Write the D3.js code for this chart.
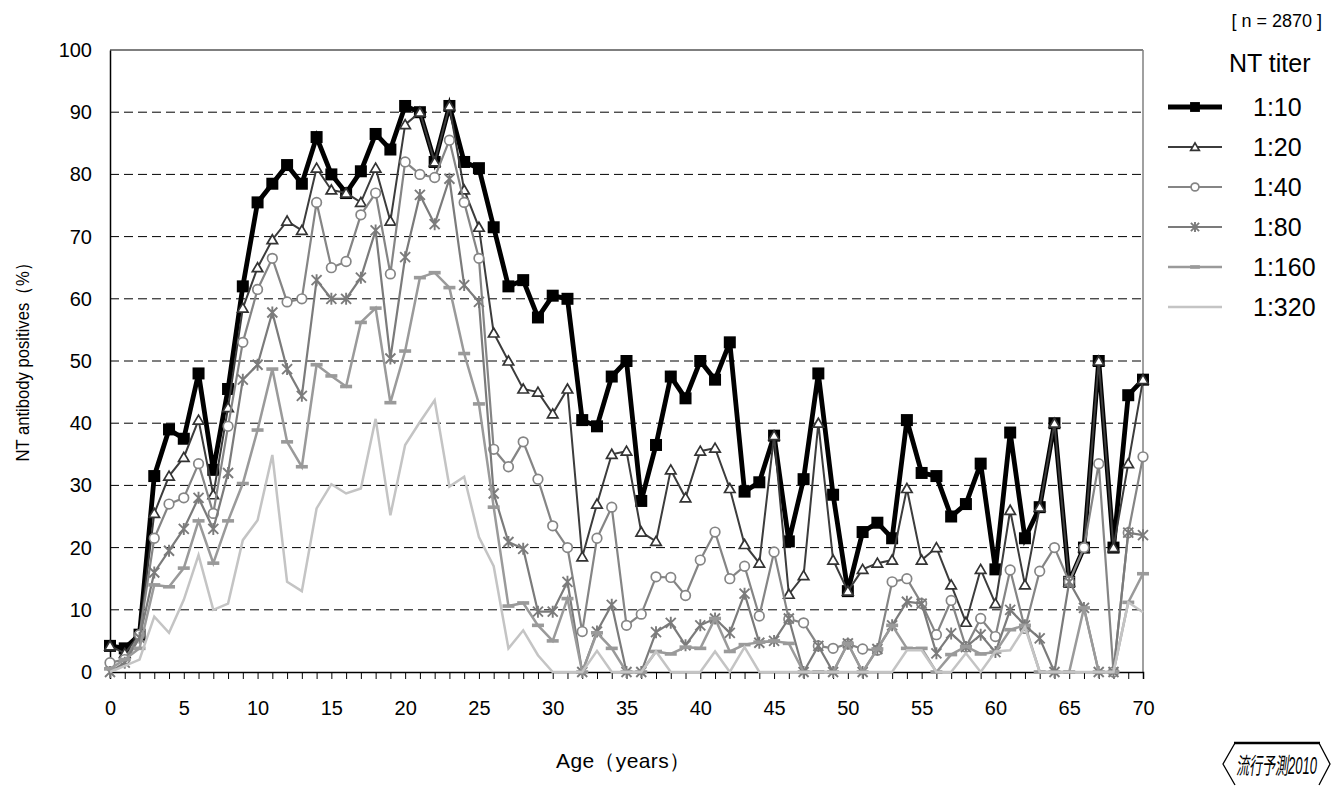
<!DOCTYPE html>
<html>
<head>
<meta charset="utf-8">
<script src="https://cdn.jsdelivr.net/npm/d3@7"></script>
<style>
body { margin: 0; background: #fff; }
svg { display: block; font-family: "Liberation Sans", Arial, sans-serif; }
</style>
</head>
<body>
<svg id="chart" width="1336" height="787"></svg>
<script>
// data
var ages = d3.range(0, 71);
var titers = ["1:10", "1:20", "1:40", "1:80", "1:160", "1:320"];

var t10 = [4.2,3.8,6,31.5,39,37.5,48,32.5,45.5,62, 75.5,78.5,81.5,78.5,86,80,77,80.5,86.5,84,
	91,90,82,91,82,81,71.5,62,63,57, 60.5,60,40.5,39.5,47.5,50,27.5,36.5,47.5,44,
	50,47,53,29,30.5,38,21,31,48,28.5, 13,22.5,24,21.5,40.5,32,31.5,25,27,33.5,
	16.5,38.5,21.5,26.5,40,14.5,20,50,20,44.5, 47];
var t20 = [4.2,3,6,25.5,31.5,34.5,40.5,28.5,42.5,58.5, 65,69.5,72.5,71,81,77.5,77,75.5,81,72.5,
	88,90,82,91,77.5,71.5,54.5,50,45.5,45, 41.5,45.5,18.5,27,35,35.5,22.5,21,32.5,28,
	35.5,36,29.5,20.5,17.5,38,12.5,15.5,40,18, 13,16.5,17.5,18,29.5,18,20,14,8,16.5,
	11,26,14,26.5,40,14.5,20,50,20,33.5, 47];
var t40 = [1.5,2,6,21.5,27,28,33.5,25.5,39.5,53, 61.5,66.5,59.5,60,75.5,65,66,73.5,77,64,
	82,80,79.5,85.5,75.5,66.5,35.8,33,37,31, 23.5,20,6.5,21.5,26.5,7.5,9.3,15.3,15.2,12.3,
	18,22.5,15,17,9,19.3,8.5,7.9,4.2,3.8, 4.5,3.7,3.5,14.5,15,11,6,11.5,4,8.6,
	5.7,16.4,7,16.2,20,14.5,20,33.5,0,22.4, 34.6];
var t80 = [0,1.5,5.5,16,19.5,23,28,23,32,47, 49.4,57.8,48.7,44.4,63,60,60,63.4,71,50.4,
	66.7,76.7,72,79.3,62.2,59.5,28.7,20.9,19.8,9.7, 9.7,14.5,0,6.5,10.8,0,0,6.4,7.9,4.3,
	7.5,8.6,6.3,12.6,4.7,5,8.6,0,4.2,0, 4.6,0,3.7,7.5,11.3,11,3,6.2,4,6,
	3.2,10,7.5,5.4,0,14.5,10.3,0,0,22.4, 22];
var t160 = [0.5,2,3.8,14,13.7,16.7,24.3,17.5,24.3,30.3, 38.9,48.7,37,33,49.4,47.6,45.9,56.2,58.5,43.3,
	51.6,63.4,64.2,61.8,51.2,43.1,26.5,10.6,11.1,7.5, 5,11.8,0,6.3,3.8,0,0,3.3,2.9,4,
	3.8,8.6,3.3,4.4,4.8,5,4.6,0,0,0, 4.6,0,3.7,7.5,3.8,3.8,0,2.8,4.1,2.9,
	3.2,6.8,7.5,0,0,0,10.3,0,0,11.2, 15.8];
var t320 = [0,1,2,8.9,6.3,11.6,18.8,10,11,21.2, 24.4,34.9,14.5,13,26.3,30.2,28.7,29.5,40.7,25.2,
	36.5,40.2,43.7,29.8,31.4,21.7,17,3.8,6.7,2.7, 0,0,0,3.4,0,0,0,3.3,0,0,
	0,3.3,0,4,0,0,0,0,0,0, 0,0,0,0,3.5,3.5,0,0,3,0,
	3.3,3.5,7.2,0,0,0,0,0,0,11.2, 9.6];

var yTicks = d3.range(0, 101, 10);

//styles for each titer
var styles = [
	{color: "#000",    width: 4.8, marker: "square"},
	{color: "#3c3c3c", width: 2,   marker: "triangle"},
	{color: "#858585", width: 2.2, marker: "circle"},
	{color: "#7b7b7b", width: 2.2, marker: "star"},
	{color: "#9a9a9a", width: 2.5, marker: "dash"},
	{color: "#c4c4c4", width: 2.5, marker: null}
];
var seriesVals = [t10, t20, t40, t80, t160, t320];

var svg = d3.select("#chart"),
	pLeft = 110, pRight = 1143, pTop = 50, pBottom = 672;

var x = d3.scaleLinear().domain([0, 70]).range([pLeft, pRight]);
var y = d3.scaleLinear().domain([0, 100]).range([pBottom, pTop]);

//grid lines
svg.append("g").selectAll("line")
	.data(yTicks.filter(function(d){ return d > 0 && d < 100; }))
	.enter().append("line")
	.attr("x1", pLeft).attr("x2", pRight)
	.attr("y1", function(d){ return y(d); })
	.attr("y2", function(d){ return y(d); })
	.attr("stroke", "#000").attr("stroke-width", 1)
	.attr("stroke-dasharray", "9,5");

//frame
svg.append("line").attr("x1", pLeft).attr("x2", pRight).attr("y1", pTop).attr("y2", pTop)
	.attr("stroke", "#000").attr("stroke-width", 1.2);
svg.append("line").attr("x1", pRight).attr("x2", pRight).attr("y1", pTop).attr("y2", pBottom)
	.attr("stroke", "#808080").attr("stroke-width", 1.5);

//axes
var yAxis = svg.append("g")
	.attr("transform", "translate(" + pLeft + ",0)")
	.call(d3.axisLeft(y).tickValues(yTicks).tickSize(0).tickPadding(18));
var xAxis = svg.append("g")
	.attr("transform", "translate(0," + pBottom + ")")
	.call(d3.axisBottom(x).tickValues(ages).tickSize(7).tickPadding(22)
		.tickFormat(function(d){ return d % 5 === 0 ? d : ""; }));

[yAxis, xAxis].forEach(function(ax){
	ax.select(".domain").attr("stroke", "#000").attr("stroke-width", 1.5);
	ax.selectAll(".tick line").attr("stroke", "#000").attr("stroke-width", 1);
	ax.selectAll("text").attr("font-size", 20).attr("fill", "#000")
		.attr("font-family", "'Liberation Sans', Arial, sans-serif");
});

//marker drawing
function drawMarker(g, type, cx, cy, col, s) {
	s = s || 1;
	if (type === "square") {
		g.append("rect").attr("x", cx - 6 * s).attr("y", cy - 6 * s)
			.attr("width", 12 * s).attr("height", 12 * s).attr("fill", col);
	} else if (type === "triangle") {
		var h = 5 * s;
		g.append("path")
			.attr("d", "M" + cx + "," + (cy - h) + "L" + (cx + h * 1.05) + "," + (cy + h * 0.8) +
				"L" + (cx - h * 1.05) + "," + (cy + h * 0.8) + "Z")
			.attr("fill", "#fff").attr("stroke", "#333").attr("stroke-width", 1.7);
	} else if (type === "circle") {
		g.append("circle").attr("cx", cx).attr("cy", cy).attr("r", 4.8 * s)
			.attr("fill", "#fff").attr("stroke", col).attr("stroke-width", 1.7);
	} else if (type === "star") {
		var r = 5 * s;
		g.append("path")
			.attr("d", "M" + (cx - r) + "," + (cy - r) + "L" + (cx + r) + "," + (cy + r) +
				"M" + (cx + r) + "," + (cy - r) + "L" + (cx - r) + "," + (cy + r) +
				"M" + cx + "," + (cy - r - 1) + "L" + cx + "," + (cy + r + 1))
			.attr("stroke", col).attr("stroke-width", 1.9).attr("fill", "none");
	} else if (type === "dash") {
		g.append("rect").attr("x", cx - 6 * s).attr("y", cy - 1.8)
			.attr("width", 12 * s).attr("height", 3.6).attr("fill", col);
	}
}

var line = d3.line()
	.x(function(d, i){ return x(ages[i]); })
	.y(function(d){ return y(d); });

//series, 1:10 drawn first
seriesVals.forEach(function(vals, k){
	var st = styles[k];
	var g = svg.append("g").attr("class", "series s" + k);
	g.append("path").datum(vals)
		.attr("d", line)
		.attr("fill", "none")
		.attr("stroke", st.color)
		.attr("stroke-width", st.width)
		.attr("stroke-linejoin", "miter");
	if (st.marker) {
		vals.forEach(function(v, i){
			drawMarker(g, st.marker, x(ages[i]), y(v), st.color);
		});
	}
});

//legend
var leg = svg.append("g").attr("class", "legend");
leg.append("text").attr("x", 1229).attr("y", 72).attr("font-size", 25).text("NT titer");
titers.forEach(function(t, k){
	var st = styles[k], ly = 107 + k * 40;
	leg.append("line").attr("x1", 1168).attr("x2", 1222).attr("y1", ly).attr("y2", ly)
		.attr("stroke", st.color).attr("stroke-width", st.width);
	if (st.marker) drawMarker(leg, st.marker, 1195, ly, st.color, 0.82);
	leg.append("text").attr("x", 1253).attr("y", ly + 9).attr("font-size", 25).text(t);
});

//squeeze a text horizontally to a given width (keeps its bbox honest)
function fitText(t, px, py, w, rot) {
	var len = t.node().getComputedTextLength();
	var s = Math.min(1, w / len);
	t.attr("x", 0).attr("y", 0)
		.attr("transform", "translate(" + px + "," + py + ")" + (rot ? " rotate(" + rot + ")" : "") +
			" scale(" + s + ",1)");
}

//texts
svg.append("text").attr("x", 1322).attr("y", 27).attr("text-anchor", "end")
	.attr("font-size", 18).text("[ n = 2870 ]");

var yLab = svg.append("text")
	.attr("text-anchor", "middle").attr("font-size", 19)
	.text("NT antibody positives（%）");
fitText(yLab, 29, 358, 207, -90);

var xLab = svg.append("text").attr("text-anchor", "middle")
	.attr("font-size", 21).attr("textLength", 134)
	.attr("x", 623).attr("y", 768)
	.text("Age（years）");

//logo box
var logo = svg.append("g");
logo.append("path")
	.attr("d", "M1235,743L1223,764L1235,785M1319,743L1330,764L1319,785")
	.attr("fill", "none").attr("stroke", "#000").attr("stroke-width", 1.3);
logo.append("line").attr("x1", 1234).attr("x2", 1320).attr("y1", 743).attr("y2", 743)
	.attr("stroke", "#000").attr("stroke-width", 2.5);
var logoText = logo.append("text")
	.attr("font-size", 23).attr("font-style", "italic")
	.attr("font-family", "'Liberation Sans', 'Noto Sans CJK JP', sans-serif")
	.text("流行予測2010");
fitText(logoText, 1236, 774, 81);
</script>
</body>
</html>
